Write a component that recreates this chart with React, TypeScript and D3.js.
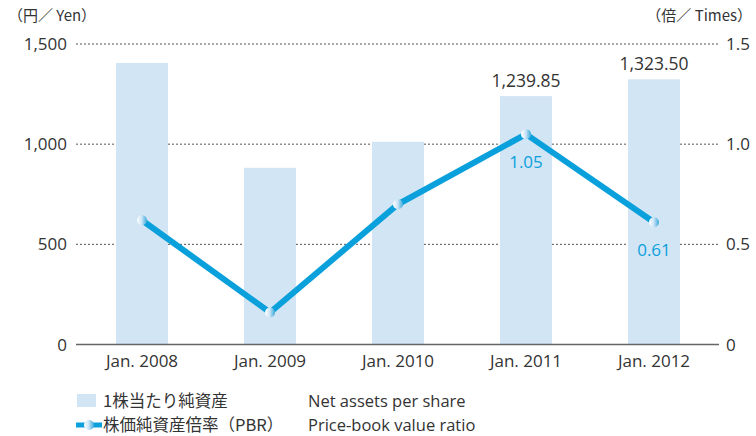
import React from "react";
import * as d3 from "d3";

const categories = ["Jan. 2008", "Jan. 2009", "Jan. 2010", "Jan. 2011", "Jan. 2012"];
const netAssets = [1405, 882, 1012, 1239.85, 1323.5];
const pbr = [0.62, 0.16, 0.7, 1.05, 0.61];
const leftTicks = [0, 500, 1000, 1500];
const rightTicks = [0, 0.5, 1.0, 1.5];
const assetLabels = [null, null, null, "1,239.85", "1,323.50"];
const pbrLabels = [null, null, null, "1.05", "0.61"];

const W = 756;
const H = 436;
const FONT = "'Open Sans', 'Noto Sans CJK JP', sans-serif";
const JP = "'Noto Sans CJK JP', 'Open Sans', sans-serif";
const BAR = "#d1e5f5";
const LINE = "#0aa0dc";
const TXT = "#333";

export default function App() {
  const x = d3.scaleBand<string>().domain(categories).range([78, 718]).padding(0);
  const yL = d3.scaleLinear().domain([0, 1500]).range([344.5, 44]);
  const yR = d3.scaleLinear().domain([0, 1.5]).range([344.5, 44]);
  const bw = x.bandwidth() * 0.406;
  const cx = (c: string) => (x(c) as number) + x.bandwidth() / 2;

  const line = d3
    .line<number>()
    .x((_, i) => cx(categories[i]))
    .y((d) => yR(d));

  const fmtL = d3.format(",");
  const fmtR = (v: number) => (v === 0 ? "0" : d3.format(".1f")(v));

  return (
    <svg width={W} height={H} style={{ position: "absolute", left: 0, top: 0 }}>
      <defs>
        <linearGradient id="ball" x1="0" x2="1" y1="0" y2="0">
          <stop offset="0" stopColor="#ffffff" />
          <stop offset="0.45" stopColor="#cfe6f6" />
          <stop offset="1" stopColor="#3aa9dc" />
        </linearGradient>
      </defs>

      <text x={8} y={21} fontSize={15} fill={TXT} fontFamily={JP}>
        （円／ Yen）
      </text>
      <text x={752} y={21} fontSize={15} fill={TXT} fontFamily={JP} textAnchor="end">
        （倍／ Times）
      </text>

      {leftTicks.slice(1).map((t) => (
        <line
          key={t}
          x1={76}
          x2={719}
          y1={yL(t)}
          y2={yL(t)}
          stroke="#555"
          strokeWidth={1}
          strokeDasharray="2,2"
        />
      ))}

      {leftTicks.map((t) => (
        <text key={t} x={67} y={yL(t) + 6} fontSize={17} fill={TXT} fontFamily={FONT} textAnchor="end">
          {fmtL(t)}
        </text>
      ))}
      {rightTicks.map((t) => (
        <text key={t} x={726} y={yR(t) + 6} fontSize={17} fill={TXT} fontFamily={FONT}>
          {fmtR(t)}
        </text>
      ))}

      {categories.map((c, i) => (
        <rect key={c} x={cx(c) - bw / 2} y={yL(netAssets[i])} width={bw} height={yL(0) - yL(netAssets[i])} fill={BAR} />
      ))}

      <line x1={76} x2={719} y1={yL(0)} y2={yL(0)} stroke="#666" strokeWidth={1.5} />

      {categories.map((c) => (
        <text key={c} x={cx(c)} y={367} fontSize={17} fill={TXT} fontFamily={FONT} textAnchor="middle">
          {c}
        </text>
      ))}

      {categories.map((c, i) =>
        assetLabels[i] ? (
          <text key={c} x={cx(c)} y={yL(netAssets[i]) - 9} fontSize={17.5} fill={TXT} fontFamily={FONT} textAnchor="middle">
            {assetLabels[i]}
          </text>
        ) : null
      )}

      <path d={line(pbr) ?? ""} fill="none" stroke={LINE} strokeWidth={6} strokeLinejoin="miter" />
      {categories.map((c, i) => (
        <circle key={c} cx={cx(c)} cy={yR(pbr[i])} r={5} fill="url(#ball)" />
      ))}

      {categories.map((c, i) =>
        pbrLabels[i] ? (
          <text key={c} x={cx(c)} y={yR(pbr[i]) + 34} fontSize={17} fill={LINE} fontFamily={FONT} textAnchor="middle">
            {pbrLabels[i]}
          </text>
        ) : null
      )}

      {/* legend */}
      <rect x={77} y={394} width={19} height={13} fill={BAR} />
      <text x={103} y={407} fontSize={16.5} fill={TXT} fontFamily={JP}>
        1株当たり純資産
      </text>
      <text x={308} y={407} fontSize={16.5} fill={TXT} fontFamily={FONT}>
        Net assets per share
      </text>

      <line x1={76} x2={102} y1={425} y2={425} stroke={LINE} strokeWidth={5} />
      <circle cx={89} cy={425} r={5} fill="url(#ball)" />
      <text x={103} y={431} fontSize={16.5} fill={TXT} fontFamily={JP}>
        株価純資産倍率（PBR）
      </text>
      <text x={308} y={431} fontSize={16.5} fill={TXT} fontFamily={FONT}>
        Price-book value ratio
      </text>
    </svg>
  );
}
